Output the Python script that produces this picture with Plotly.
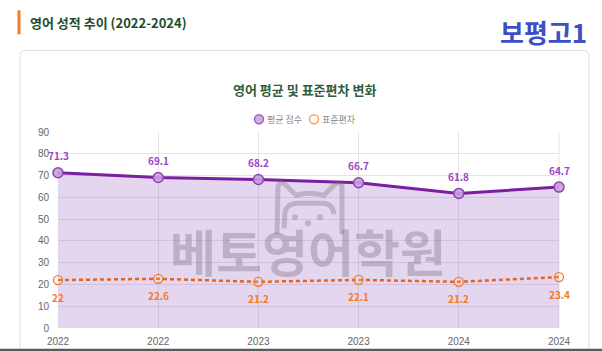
import plotly.graph_objects as go

categories = ["2022", "2022", "2023", "2023", "2024", "2024"]
mean_scores = [71.3, 69.1, 68.2, 66.7, 61.8, 64.7]
std_devs = [22, 22.6, 21.2, 22.1, 21.2, 23.4]
y_ticks = [0, 10, 20, 30, 40, 50, 60, 70, 80, 90]
legend_names = ["평균 점수", "표준편차"]

W, H = 602, 351
L, R, T, B = 58, 559, 131.7, 327.7

def px(x):
    return (x - L) / (R - L)

def py(y):
    return (B - y) / (B - T)

xs = list(range(len(categories)))
KR = "Noto Sans CJK KR"
PURPLE_TXT = "#9b45c2"
ORANGE_TXT = "#f47a20"

fig = go.Figure()

fig.add_trace(go.Scatter(
    x=xs, y=mean_scores, mode="lines+markers",
    line=dict(color="#7b1fa2", width=3),
    marker=dict(size=10, color="rgba(200,160,224,0.9)", line=dict(color="#8e44ad", width=1.5)),
    fill="tozeroy", fillcolor="rgba(170,120,205,0.30)",
    cliponaxis=False, showlegend=False, hoverinfo="skip"))

fig.add_trace(go.Scatter(
    x=xs, y=std_devs, mode="lines+markers",
    line=dict(color="#e8641c", width=2.5, dash="4px,3px"),
    marker=dict(size=9, color="rgba(255,255,255,0.15)", line=dict(color="#f07a2a", width=1.3)),
    cliponaxis=False, showlegend=False, hoverinfo="skip"))

annotations = []
for xi, v in zip(xs, mean_scores):
    annotations.append(dict(x=xi, y=v, xref="x", yref="y", text=f"<b>{v}</b>", showarrow=False,
                            yshift=17, font=dict(family=KR, size=10, color=PURPLE_TXT)))
for xi, v in zip(xs, std_devs):
    annotations.append(dict(x=xi, y=v, xref="x", yref="y", text=f"<b>{v}</b>", showarrow=False,
                            yshift=-17, font=dict(family=KR, size=10, color=ORANGE_TXT)))

shapes = [
    # card
    dict(type="path", xref="paper", yref="paper",
         path=f"M {px(20)},{py(360)} L {px(20)},{py(56)} Q {px(20)},{py(50)} {px(26)},{py(50)} "
              f"L {px(583)},{py(50)} Q {px(589)},{py(50)} {px(589)},{py(56)} L {px(589)},{py(360)}",
         line=dict(color="#dddddd", width=1), fillcolor="rgba(0,0,0,0)", layer="below"),
    # orange heading bar
    dict(type="rect", xref="paper", yref="paper", x0=px(17.5), x1=px(20.5), y0=py(34), y1=py(10),
         fillcolor="#f07a2a", line=dict(width=0)),
    # bottom dark line
    dict(type="rect", xref="paper", yref="paper", x0=px(0), x1=px(602), y0=py(351), y1=py(348.5),
         fillcolor="#5a5a5a", line=dict(width=0)),
    # right plot border
    dict(type="line", xref="paper", yref="paper", x0=1, x1=1, y0=0, y1=1,
         line=dict(color="#e6e6e6", width=1), layer="below"),
    # legend markers
    dict(type="circle", xref="paper", yref="paper", x0=px(254.5), x1=px(263.5), y0=py(123.5), y1=py(114.5),
         fillcolor="rgba(200,160,224,0.85)", line=dict(color="#a35cc6", width=1.5)),
    dict(type="circle", xref="paper", yref="paper", x0=px(309.5), x1=px(318.5), y0=py(123.5), y1=py(114.5),
         fillcolor="rgba(0,0,0,0)", line=dict(color="#f7a35a", width=1.5)),
]

annotations += [
    dict(text=legend_names[0], x=px(265), y=py(119), xref="paper", yref="paper",
         xanchor="left", yanchor="middle", showarrow=False,
         font=dict(family=KR, size=9, color="#888888")),
    dict(text=legend_names[1], x=px(320), y=py(119), xref="paper", yref="paper",
         xanchor="left", yanchor="middle", showarrow=False,
         font=dict(family=KR, size=9, color="#888888")),
    dict(text="<b>영어 성적 추이 (2022-2024)</b>", x=px(28), y=py(22), xref="paper", yref="paper",
         xanchor="left", yanchor="middle", showarrow=False,
         font=dict(family=KR, size=13, color="#1e4d2b")),
    dict(text="<b>보평고1</b>", x=px(589), y=py(31), xref="paper", yref="paper",
         xanchor="right", yanchor="middle", showarrow=False,
         font=dict(family=KR, size=26, color="#3d4fc4")),
    dict(text="<b>영어 평균 및 표준편차 변화</b>", x=px(304), y=py(89), xref="paper", yref="paper",
         xanchor="center", yanchor="middle", showarrow=False,
         font=dict(family=KR, size=13, color="#2e5e3e")),
    dict(text="<b>베토영어학원</b>", x=px(308), y=py(250), xref="paper", yref="paper",
         xanchor="center", yanchor="middle", showarrow=False,
         font=dict(family=KR, size=50, color="rgba(105,100,110,0.33)")),
]

# cat icon outline (watermark)
WM = "rgba(110,110,110,0.33)"
cat_outer = (f"M {px(277)},{py(234)} L {px(278)},{py(187)} Q {px(279)},{py(180)} {px(285)},{py(184)} "
             f"L {px(296)},{py(195)} Q {px(310)},{py(191)} {px(324)},{py(195)} "
             f"L {px(335)},{py(184)} Q {px(341)},{py(180)} {px(342)},{py(187)} L {px(342)},{py(234)}")
cat_inner = (f"M {px(284)},{py(228)} L {px(285)},{py(212)} Q {px(287)},{py(203)} {px(298)},{py(203)} "
             f"L {px(322)},{py(203)} Q {px(333)},{py(203)} {px(334)},{py(214)}")
shapes.append(dict(type="path", xref="paper", yref="paper", path=cat_outer,
                   line=dict(color=WM, width=5), fillcolor="rgba(0,0,0,0)"))
shapes.append(dict(type="path", xref="paper", yref="paper", path=cat_inner,
                   line=dict(color=WM, width=5), fillcolor="rgba(0,0,0,0)"))
for cx, cy, r in [(295, 217, 3), (320, 217, 3), (308, 223, 3)]:
    shapes.append(dict(type="circle", xref="paper", yref="paper",
                       x0=px(cx - r), x1=px(cx + r), y0=py(cy + r), y1=py(cy - r),
                       fillcolor=WM, line=dict(width=0)))

fig.update_layout(
    width=W, height=H,
    margin=dict(l=L, r=W - R, t=T, b=H - B, autoexpand=False),
    paper_bgcolor="white", plot_bgcolor="white",
    font=dict(family=KR),
    shapes=shapes, annotations=annotations,
    showlegend=False,
    xaxis=dict(range=[0, len(categories) - 1], tickmode="array", tickvals=xs, ticktext=categories,
               showgrid=True, gridcolor="#e3e0e6", zeroline=False, showline=False,
               tickfont=dict(size=10, color="#666666", family="Arial"), ticks="",
               ticklabelstandoff=6, automargin=False),
    yaxis=dict(range=[0, 90], tickmode="array", tickvals=y_ticks,
               showgrid=True, gridcolor="#e3e0e6", zeroline=False,
               tickfont=dict(size=10, color="#666666", family="Arial"), ticks="",
               ticklabelstandoff=8, automargin=False),
)

fig.write_html("out.html")
